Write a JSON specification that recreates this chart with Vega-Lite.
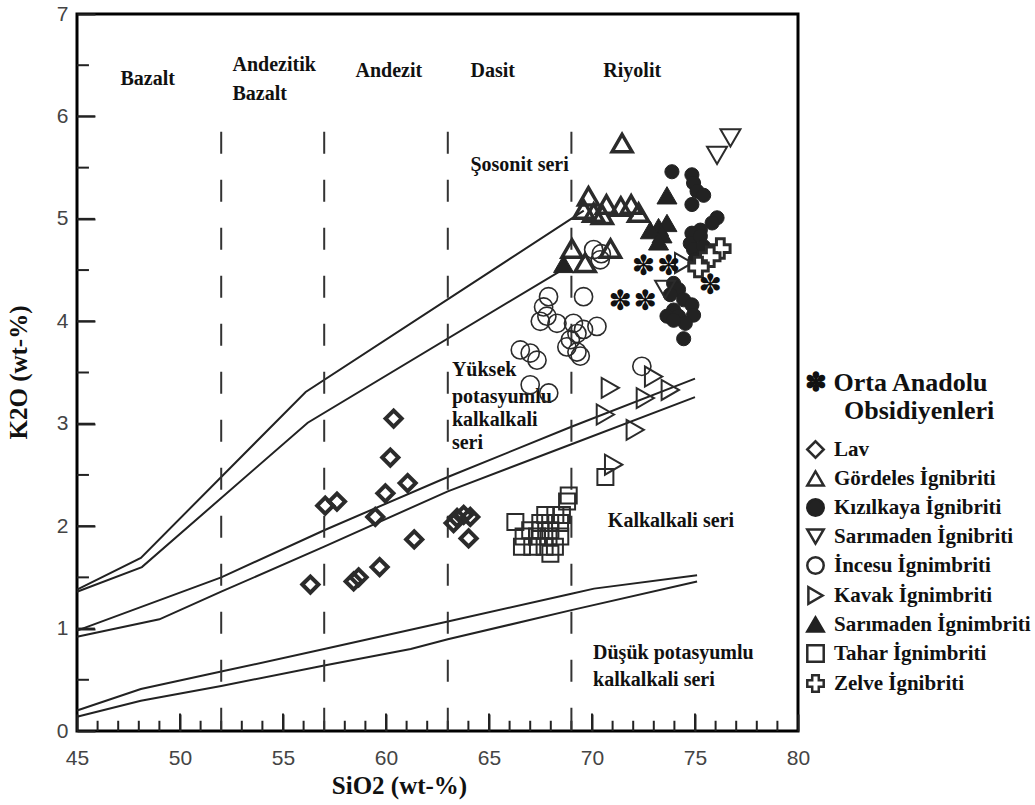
{
  "$schema": "https://vega.github.io/schema/vega-lite/v6.json",
  "width": 721,
  "height": 717,
  "autosize": "none",
  "padding": {"left": 77, "top": 14, "right": 237, "bottom": 74},
  "background": "white",
  "config": {
    "view": {"stroke": "black", "strokeWidth": 3},
    "axis": {
      "zindex": 1,
      "grid": false,
      "domain": false,
      "ticks": true,
      "tickColor": "#222",
      "tickWidth": 2,
      "labelFont": "Liberation Sans Narrow, Liberation Sans, Arial, sans-serif",
      "labelFontSize": 21,
      "labelColor": "#444",
      "titleFont": "Liberation Serif",
      "titleFontWeight": "bold",
      "titleFontSize": 25,
      "titleColor": "#111"
    },
    "legend": {
      "titleFont": "Liberation Serif",
      "titleFontWeight": "bold",
      "titleFontSize": 26,
      "titleColor": "#111",
      "titleLineHeight": 28,
      "titleLimit": 400,
      "titlePadding": 15,
      "labelFont": "Liberation Serif",
      "labelFontWeight": "bold",
      "labelFontSize": 21,
      "labelColor": "#111",
      "labelLimit": 300,
      "rowPadding": 3,
      "labelOffset": 8,
      "symbolSize": 270,
      "symbolStrokeWidth": 2.5
    }
  },
  "datasets": {
    "xminor": [{"v": 46}, {"v": 47}, {"v": 48}, {"v": 49}, {"v": 51}, {"v": 52}, {"v": 53}, {"v": 54}, {"v": 56}, {"v": 57}, {"v": 58}, {"v": 59}, {"v": 61}, {"v": 62}, {"v": 63}, {"v": 64}, {"v": 66}, {"v": 67}, {"v": 68}, {"v": 69}, {"v": 71}, {"v": 72}, {"v": 73}, {"v": 74}, {"v": 76}, {"v": 77}, {"v": 78}, {"v": 79}],
    "xmajor": [{"v": 50}, {"v": 55}, {"v": 60}, {"v": 65}, {"v": 70}, {"v": 75}],
    "yminor": [{"v": 0.5}, {"v": 1.5}, {"v": 2.5}, {"v": 3.5}, {"v": 4.5}, {"v": 5.5}, {"v": 6.5}],
    "ymajor": [{"v": 1}, {"v": 2}, {"v": 3}, {"v": 4}, {"v": 5}, {"v": 6}],
    "curves": [
      {"id": "S1", "sio2": 45, "k2o": 1.38}, {"id": "S1", "sio2": 48.1, "k2o": 1.69}, {"id": "S1", "sio2": 56.1, "k2o": 3.31}, {"id": "S1", "sio2": 69.6, "k2o": 5.08},
      {"id": "S2", "sio2": 45, "k2o": 1.36}, {"id": "S2", "sio2": 48.15, "k2o": 1.6}, {"id": "S2", "sio2": 56.2, "k2o": 3.01}, {"id": "S2", "sio2": 68.7, "k2o": 4.52},
      {"id": "H1", "sio2": 45, "k2o": 0.98}, {"id": "H1", "sio2": 52, "k2o": 1.5}, {"id": "H1", "sio2": 57, "k2o": 1.96}, {"id": "H1", "sio2": 63, "k2o": 2.48}, {"id": "H1", "sio2": 69, "k2o": 2.97}, {"id": "H1", "sio2": 75, "k2o": 3.44},
      {"id": "H2", "sio2": 45, "k2o": 0.92}, {"id": "H2", "sio2": 49, "k2o": 1.09}, {"id": "H2", "sio2": 52, "k2o": 1.36}, {"id": "H2", "sio2": 57, "k2o": 1.8}, {"id": "H2", "sio2": 63, "k2o": 2.34}, {"id": "H2", "sio2": 69, "k2o": 2.8}, {"id": "H2", "sio2": 75, "k2o": 3.26},
      {"id": "L1", "sio2": 45, "k2o": 0.2}, {"id": "L1", "sio2": 48.1, "k2o": 0.41}, {"id": "L1", "sio2": 52, "k2o": 0.58}, {"id": "L1", "sio2": 57, "k2o": 0.8}, {"id": "L1", "sio2": 63, "k2o": 1.07}, {"id": "L1", "sio2": 69, "k2o": 1.34}, {"id": "L1", "sio2": 70.1, "k2o": 1.39}, {"id": "L1", "sio2": 75.1, "k2o": 1.52},
      {"id": "L2", "sio2": 45, "k2o": 0.14}, {"id": "L2", "sio2": 48.1, "k2o": 0.295}, {"id": "L2", "sio2": 52, "k2o": 0.44}, {"id": "L2", "sio2": 57, "k2o": 0.64}, {"id": "L2", "sio2": 61.2, "k2o": 0.8}, {"id": "L2", "sio2": 63, "k2o": 0.895}, {"id": "L2", "sio2": 69, "k2o": 1.18}, {"id": "L2", "sio2": 75.1, "k2o": 1.46}
    ],
    "dividers": [
      {"sio2": 52, "k2o": 5.85, "k2o_end": 0},
      {"sio2": 57, "k2o": 5.85, "k2o_end": 0},
      {"sio2": 63, "k2o": 5.85, "k2o_end": 0},
      {"sio2": 69, "k2o": 5.85, "k2o_end": 0}
    ],
    "labels": [
      {"t": "Bazalt", "sio2": 47.11, "k2o": 6.37},
      {"t": "Andezitik", "sio2": 52.55, "k2o": 6.5},
      {"t": "Bazalt", "sio2": 52.55, "k2o": 6.22},
      {"t": "Andezit", "sio2": 58.52, "k2o": 6.44},
      {"t": "Dasit", "sio2": 64.1, "k2o": 6.44},
      {"t": "Riyolit", "sio2": 70.55, "k2o": 6.44},
      {"t": "Şosonit seri", "sio2": 64.1, "k2o": 5.53},
      {"t": "Yüksek", "sio2": 63.2, "k2o": 3.525},
      {"t": "potasyumlu", "sio2": 63.2, "k2o": 3.265},
      {"t": "kalkalkali", "sio2": 63.2, "k2o": 3.04},
      {"t": "seri", "sio2": 63.2, "k2o": 2.81},
      {"t": "Kalkalkali seri", "sio2": 70.77, "k2o": 2.05},
      {"t": "Düşük potasyumlu", "sio2": 70.05, "k2o": 0.76},
      {"t": "kalkalkali seri", "sio2": 70.05, "k2o": 0.5}
    ],
    "obsidian": [
      {"sio2": 72.5, "k2o": 4.53}, {"sio2": 73.72, "k2o": 4.53}, {"sio2": 71.37, "k2o": 4.19}, {"sio2": 72.59, "k2o": 4.19}, {"sio2": 75.74, "k2o": 4.34}
    ],
    "samples": [
      {"group": "Lav", "sio2": 60.37, "k2o": 3.05}, {"group": "Lav", "sio2": 60.21, "k2o": 2.67}, {"group": "Lav", "sio2": 59.97, "k2o": 2.32}, {"group": "Lav", "sio2": 61.05, "k2o": 2.42}, {"group": "Lav", "sio2": 57.05, "k2o": 2.2}, {"group": "Lav", "sio2": 57.62, "k2o": 2.24}, {"group": "Lav", "sio2": 59.48, "k2o": 2.09}, {"group": "Lav", "sio2": 61.37, "k2o": 1.87}, {"group": "Lav", "sio2": 63.45, "k2o": 2.08}, {"group": "Lav", "sio2": 63.77, "k2o": 2.11}, {"group": "Lav", "sio2": 64.09, "k2o": 2.09}, {"group": "Lav", "sio2": 63.28, "k2o": 2.03}, {"group": "Lav", "sio2": 64.01, "k2o": 1.88}, {"group": "Lav", "sio2": 59.69, "k2o": 1.6}, {"group": "Lav", "sio2": 58.43, "k2o": 1.46}, {"group": "Lav", "sio2": 58.67, "k2o": 1.5}, {"group": "Lav", "sio2": 56.33, "k2o": 1.43},
      {"group": "Gördeles İgnibriti", "sio2": 71.46, "k2o": 5.74}, {"group": "Gördeles İgnibriti", "sio2": 69.83, "k2o": 5.22}, {"group": "Gördeles İgnibriti", "sio2": 69.6, "k2o": 5.09}, {"group": "Gördeles İgnibriti", "sio2": 70.08, "k2o": 5.06}, {"group": "Gördeles İgnibriti", "sio2": 70.7, "k2o": 5.14}, {"group": "Gördeles İgnibriti", "sio2": 71.4, "k2o": 5.12}, {"group": "Gördeles İgnibriti", "sio2": 71.9, "k2o": 5.14}, {"group": "Gördeles İgnibriti", "sio2": 72.26, "k2o": 5.06}, {"group": "Gördeles İgnibriti", "sio2": 70.5, "k2o": 5.04}, {"group": "Gördeles İgnibriti", "sio2": 69.03, "k2o": 4.71}, {"group": "Gördeles İgnibriti", "sio2": 69.67, "k2o": 4.57}, {"group": "Gördeles İgnibriti", "sio2": 70.9, "k2o": 4.71},
      {"group": "Kızılkaya İgnibriti", "sio2": 73.88, "k2o": 5.46}, {"group": "Kızılkaya İgnibriti", "sio2": 74.85, "k2o": 5.43}, {"group": "Kızılkaya İgnibriti", "sio2": 74.93, "k2o": 5.35}, {"group": "Kızılkaya İgnibriti", "sio2": 75.1, "k2o": 5.27}, {"group": "Kızılkaya İgnibriti", "sio2": 74.85, "k2o": 5.14}, {"group": "Kızılkaya İgnibriti", "sio2": 75.42, "k2o": 5.23}, {"group": "Kızılkaya İgnibriti", "sio2": 76.07, "k2o": 5.01}, {"group": "Kızılkaya İgnibriti", "sio2": 75.83, "k2o": 4.96}, {"group": "Kızılkaya İgnibriti", "sio2": 75.26, "k2o": 4.89}, {"group": "Kızılkaya İgnibriti", "sio2": 74.85, "k2o": 4.86}, {"group": "Kızılkaya İgnibriti", "sio2": 74.77, "k2o": 4.76}, {"group": "Kızılkaya İgnibriti", "sio2": 75.26, "k2o": 4.83}, {"group": "Kızılkaya İgnibriti", "sio2": 74.93, "k2o": 4.7}, {"group": "Kızılkaya İgnibriti", "sio2": 75.42, "k2o": 4.73}, {"group": "Kızılkaya İgnibriti", "sio2": 75.34, "k2o": 4.63}, {"group": "Kızılkaya İgnibriti", "sio2": 75.0, "k2o": 4.6}, {"group": "Kızılkaya İgnibriti", "sio2": 73.96, "k2o": 4.37}, {"group": "Kızılkaya İgnibriti", "sio2": 74.2, "k2o": 4.31}, {"group": "Kızılkaya İgnibriti", "sio2": 73.8, "k2o": 4.26}, {"group": "Kızılkaya İgnibriti", "sio2": 74.45, "k2o": 4.21}, {"group": "Kızılkaya İgnibriti", "sio2": 74.85, "k2o": 4.16}, {"group": "Kızılkaya İgnibriti", "sio2": 73.96, "k2o": 4.11}, {"group": "Kızılkaya İgnibriti", "sio2": 73.64, "k2o": 4.05}, {"group": "Kızılkaya İgnibriti", "sio2": 74.2, "k2o": 4.05}, {"group": "Kızılkaya İgnibriti", "sio2": 74.93, "k2o": 4.06}, {"group": "Kızılkaya İgnibriti", "sio2": 74.53, "k2o": 3.98}, {"group": "Kızılkaya İgnibriti", "sio2": 73.96, "k2o": 4.01}, {"group": "Kızılkaya İgnibriti", "sio2": 74.45, "k2o": 3.83},
      {"group": "Sarımaden İgnibriti", "sio2": 76.72, "k2o": 5.79}, {"group": "Sarımaden İgnibriti", "sio2": 76.07, "k2o": 5.62}, {"group": "Sarımaden İgnibriti", "sio2": 73.55, "k2o": 4.31},
      {"group": "İncesu İgnimbriti", "sio2": 70.08, "k2o": 4.7}, {"group": "İncesu İgnimbriti", "sio2": 70.45, "k2o": 4.66}, {"group": "İncesu İgnimbriti", "sio2": 69.59, "k2o": 4.24}, {"group": "İncesu İgnimbriti", "sio2": 67.89, "k2o": 4.24}, {"group": "İncesu İgnimbriti", "sio2": 67.65, "k2o": 4.14}, {"group": "İncesu İgnimbriti", "sio2": 67.81, "k2o": 4.05}, {"group": "İncesu İgnimbriti", "sio2": 67.49, "k2o": 4.0}, {"group": "İncesu İgnimbriti", "sio2": 68.3, "k2o": 3.98}, {"group": "İncesu İgnimbriti", "sio2": 69.1, "k2o": 3.98}, {"group": "İncesu İgnimbriti", "sio2": 69.59, "k2o": 3.92}, {"group": "İncesu İgnimbriti", "sio2": 69.27, "k2o": 3.88}, {"group": "İncesu İgnimbriti", "sio2": 68.95, "k2o": 3.82}, {"group": "İncesu İgnimbriti", "sio2": 68.78, "k2o": 3.75}, {"group": "İncesu İgnimbriti", "sio2": 69.27, "k2o": 3.7}, {"group": "İncesu İgnimbriti", "sio2": 69.43, "k2o": 3.66}, {"group": "İncesu İgnimbriti", "sio2": 70.24, "k2o": 3.95}, {"group": "İncesu İgnimbriti", "sio2": 66.52, "k2o": 3.72}, {"group": "İncesu İgnimbriti", "sio2": 67.0, "k2o": 3.69}, {"group": "İncesu İgnimbriti", "sio2": 67.33, "k2o": 3.62}, {"group": "İncesu İgnimbriti", "sio2": 67.0, "k2o": 3.38}, {"group": "İncesu İgnimbriti", "sio2": 67.9, "k2o": 3.3}, {"group": "İncesu İgnimbriti", "sio2": 72.42, "k2o": 3.56}, {"group": "İncesu İgnimbriti", "sio2": 70.4, "k2o": 4.6},
      {"group": "Kavak İgnimbriti", "sio2": 70.89, "k2o": 3.35}, {"group": "Kavak İgnimbriti", "sio2": 72.99, "k2o": 3.46}, {"group": "Kavak İgnimbriti", "sio2": 72.59, "k2o": 3.25}, {"group": "Kavak İgnimbriti", "sio2": 73.8, "k2o": 3.33}, {"group": "Kavak İgnimbriti", "sio2": 70.65, "k2o": 3.09}, {"group": "Kavak İgnimbriti", "sio2": 72.1, "k2o": 2.94}, {"group": "Kavak İgnimbriti", "sio2": 71.05, "k2o": 2.6}, {"group": "Kavak İgnimbriti", "sio2": 74.45, "k2o": 4.57},
      {"group": "Sarımaden İgnimbriti", "sio2": 73.64, "k2o": 5.23}, {"group": "Sarımaden İgnimbriti", "sio2": 73.23, "k2o": 4.92}, {"group": "Sarımaden İgnimbriti", "sio2": 73.64, "k2o": 4.96}, {"group": "Sarımaden İgnimbriti", "sio2": 72.83, "k2o": 4.89}, {"group": "Sarımaden İgnimbriti", "sio2": 73.4, "k2o": 4.85}, {"group": "Sarımaden İgnimbriti", "sio2": 73.23, "k2o": 4.78}, {"group": "Sarımaden İgnimbriti", "sio2": 68.62, "k2o": 4.56},
      {"group": "Tahar İgnimbriti", "sio2": 68.87, "k2o": 2.3}, {"group": "Tahar İgnimbriti", "sio2": 68.79, "k2o": 2.24}, {"group": "Tahar İgnimbriti", "sio2": 66.28, "k2o": 2.04}, {"group": "Tahar İgnimbriti", "sio2": 67.73, "k2o": 2.11}, {"group": "Tahar İgnimbriti", "sio2": 68.22, "k2o": 2.11}, {"group": "Tahar İgnimbriti", "sio2": 68.54, "k2o": 2.11}, {"group": "Tahar İgnimbriti", "sio2": 67.49, "k2o": 2.03}, {"group": "Tahar İgnimbriti", "sio2": 67.97, "k2o": 2.03}, {"group": "Tahar İgnimbriti", "sio2": 68.45, "k2o": 2.03}, {"group": "Tahar İgnimbriti", "sio2": 67.0, "k2o": 1.96}, {"group": "Tahar İgnimbriti", "sio2": 67.5, "k2o": 1.96}, {"group": "Tahar İgnimbriti", "sio2": 67.98, "k2o": 1.96}, {"group": "Tahar İgnimbriti", "sio2": 66.68, "k2o": 1.9}, {"group": "Tahar İgnimbriti", "sio2": 67.33, "k2o": 1.9}, {"group": "Tahar İgnimbriti", "sio2": 67.89, "k2o": 1.9}, {"group": "Tahar İgnimbriti", "sio2": 68.46, "k2o": 1.9}, {"group": "Tahar İgnimbriti", "sio2": 66.6, "k2o": 1.8}, {"group": "Tahar İgnimbriti", "sio2": 67.1, "k2o": 1.8}, {"group": "Tahar İgnimbriti", "sio2": 67.7, "k2o": 1.8}, {"group": "Tahar İgnimbriti", "sio2": 68.2, "k2o": 1.8}, {"group": "Tahar İgnimbriti", "sio2": 67.98, "k2o": 1.73}, {"group": "Tahar İgnimbriti", "sio2": 70.65, "k2o": 2.48},
      {"group": "Zelve İgnibriti", "sio2": 76.23, "k2o": 4.71}, {"group": "Zelve İgnibriti", "sio2": 75.74, "k2o": 4.63}, {"group": "Zelve İgnibriti", "sio2": 75.17, "k2o": 4.53}
    ]
  },
  "resolve": {"axis": {"x": "independent", "y": "independent"}},
  "layer": [
    {
      "data": {"name": "curves"},
      "mark": {"type": "line", "stroke": "#222", "strokeWidth": 2},
      "encoding": {
        "x": {
          "field": "sio2", "type": "quantitative",
          "scale": {"domain": [45, 80], "nice": false, "zero": false},
          "axis": null
        },
        "y": {
          "field": "k2o", "type": "quantitative",
          "scale": {"domain": [0, 7], "nice": false, "zero": true},
          "axis": null
        },
        "detail": {"field": "id", "type": "nominal"}
      }
    },
    {
      "data": {"name": "xminor"},
      "mark": {"type": "rule", "stroke": "#222", "strokeWidth": 2, "opacity": 1},
      "encoding": {
        "x": {"field": "v", "type": "quantitative", "axis": null},
        "y": {"datum": 0, "type": "quantitative", "axis": null},
        "y2": {"datum": 0.1}
      }
    },
    {
      "data": {"name": "xmajor"},
      "mark": {"type": "rule", "stroke": "#222", "strokeWidth": 2, "opacity": 1},
      "encoding": {
        "x": {"field": "v", "type": "quantitative", "axis": null},
        "y": {"datum": 0, "type": "quantitative", "axis": null},
        "y2": {"datum": 0.17}
      }
    },
    {
      "data": {"name": "yminor"},
      "mark": {"type": "rule", "stroke": "#222", "strokeWidth": 2, "opacity": 1},
      "encoding": {
        "y": {"field": "v", "type": "quantitative", "axis": null},
        "x": {"datum": 45, "type": "quantitative", "axis": null},
        "x2": {"datum": 45.58}
      }
    },
    {
      "data": {"name": "ymajor"},
      "mark": {"type": "rule", "stroke": "#222", "strokeWidth": 2, "opacity": 1},
      "encoding": {
        "y": {"field": "v", "type": "quantitative", "axis": null},
        "x": {"datum": 45, "type": "quantitative", "axis": null},
        "x2": {"datum": 45.87}
      }
    },
    {
      "data": {"name": "dividers"},
      "mark": {"type": "rule", "stroke": "#333", "strokeWidth": 2, "strokeDash": [22, 26]},
      "encoding": {
        "x": {
          "field": "sio2", "type": "quantitative",
          "axis": {
            "orient": "bottom",
            "title": "SiO2 (wt-%)",
            "values": [45,50,55,60,65,70,75,80],
            "format": "d",
            "tickSize": 17,
            "offset": -17,
            "zindex": 1,
            "labelPadding": 16,
            "labelFlush": false,
            "labelOverlap": false,
            "titleX": 322,
            "titleY": 71,
            "titleBaseline": "middle"
          }
        },
        "y": {
          "field": "k2o", "type": "quantitative",
          "axis": {
            "orient": "left",
            "title": "K2O (wt-%)",
            "values": [0,1,2,3,4,5,6,7],
            "format": "d",
            "tickSize": 18,
            "offset": -18,
            "zindex": 1,
            "labelPadding": 9,
            "labelFlush": false,
            "labelOverlap": false,
            "titleX": -77,
            "titleY": 358,
            "titleBaseline": "middle"
          }
        },
        "y2": {"field": "k2o_end"}
      }
    },
    {
      "data": {"name": "labels"},
      "mark": {"type": "text", "align": "left", "baseline": "middle", "font": "Liberation Serif", "fontWeight": "bold", "fontSize": 20, "color": "#111"},
      "encoding": {
        "x": {"field": "sio2", "type": "quantitative", "axis": null},
        "y": {"field": "k2o", "type": "quantitative", "axis": null},
        "text": {"field": "t", "type": "nominal"}
      }
    },
    {
      "data": {"name": "samples"},
      "mark": {"type": "point", "filled": true, "opacity": 1},
      "encoding": {
        "x": {"field": "sio2", "type": "quantitative", "axis": null},
        "y": {"field": "k2o", "type": "quantitative", "axis": null},
        "shape": {
          "field": "group",
          "type": "nominal",
          "scale": {
            "domain": ["Lav", "Gördeles İgnibriti", "Kızılkaya İgnibriti", "Sarımaden İgnibriti", "İncesu İgnimbriti", "Kavak İgnimbriti", "Sarımaden İgnimbriti", "Tahar İgnimbriti", "Zelve İgnibriti"],
            "range": ["diamond", "triangle-up", "circle", "triangle-down", "circle", "triangle-right", "triangle-up", "square", "cross"]
          },
          "legend": {
            "orient": "none",
            "legendX": 728,
            "legendY": 356,
            "title": ["✽ Orta Anadolu", "\u200b\u2003\u2002Obsidiyenleri"]
          }
        },
        "fill": {
          "field": "group",
          "type": "nominal",
          "scale": {
            "domain": ["Lav", "Gördeles İgnibriti", "Kızılkaya İgnibriti", "Sarımaden İgnibriti", "İncesu İgnimbriti", "Kavak İgnimbriti", "Sarımaden İgnimbriti", "Tahar İgnimbriti", "Zelve İgnibriti"],
            "range": ["transparent", "transparent", "#222", "transparent", "transparent", "transparent", "#222", "transparent", "white"]
          },
          "legend": {
            "orient": "none",
            "legendX": 728,
            "legendY": 356,
            "title": ["✽ Orta Anadolu", "\u200b\u2003\u2002Obsidiyenleri"]
          }
        },
        "stroke": {
          "field": "group",
          "type": "nominal",
          "scale": {
            "domain": ["Lav", "Gördeles İgnibriti", "Kızılkaya İgnibriti", "Sarımaden İgnibriti", "İncesu İgnimbriti", "Kavak İgnimbriti", "Sarımaden İgnimbriti", "Tahar İgnimbriti", "Zelve İgnibriti"],
            "range": ["#2b2b2b", "#2b2b2b", "#222", "#2b2b2b", "#2b2b2b", "#2b2b2b", "#222", "#2b2b2b", "#2b2b2b"]
          },
          "legend": {
            "orient": "none",
            "legendX": 728,
            "legendY": 356,
            "title": ["✽ Orta Anadolu", "\u200b\u2003\u2002Obsidiyenleri"]
          }
        },
        "size": {
          "condition": [
            {"test": "datum.group === 'Lav'", "value": 260},
            {"test": "datum.group === 'Kızılkaya İgnibriti'", "value": 200},
            {"test": "datum.group === 'Tahar İgnimbriti'", "value": 256},
            {"test": "datum.group === 'Zelve İgnibriti'", "value": 380},
            {"test": "datum.group === 'İncesu İgnimbriti'", "value": 330}
          ],
          "value": 400
        },
        "strokeWidth": {
          "condition": [
            {"test": "datum.group === 'Lav'", "value": 4},
            {"test": "datum.group === 'Gördeles İgnibriti'", "value": 3.5},
            {"test": "datum.group === 'Zelve İgnibriti'", "value": 3},
            {"test": "datum.group === 'Kızılkaya İgnibriti'", "value": 1},
            {"test": "datum.group === 'Sarımaden İgnimbriti'", "value": 1},
            {"test": "datum.group === 'İncesu İgnimbriti'", "value": 1.6}
          ],
          "value": 2
        }
      }
    },
    {
      "data": {"name": "obsidian"},
      "mark": {"type": "text", "text": "✽", "align": "center", "baseline": "middle", "font": "DejaVu Sans", "fontSize": 28, "color": "#111"},
      "encoding": {
        "x": {"field": "sio2", "type": "quantitative", "axis": null},
        "y": {"field": "k2o", "type": "quantitative", "axis": null}
      }
    }
  ]
}
